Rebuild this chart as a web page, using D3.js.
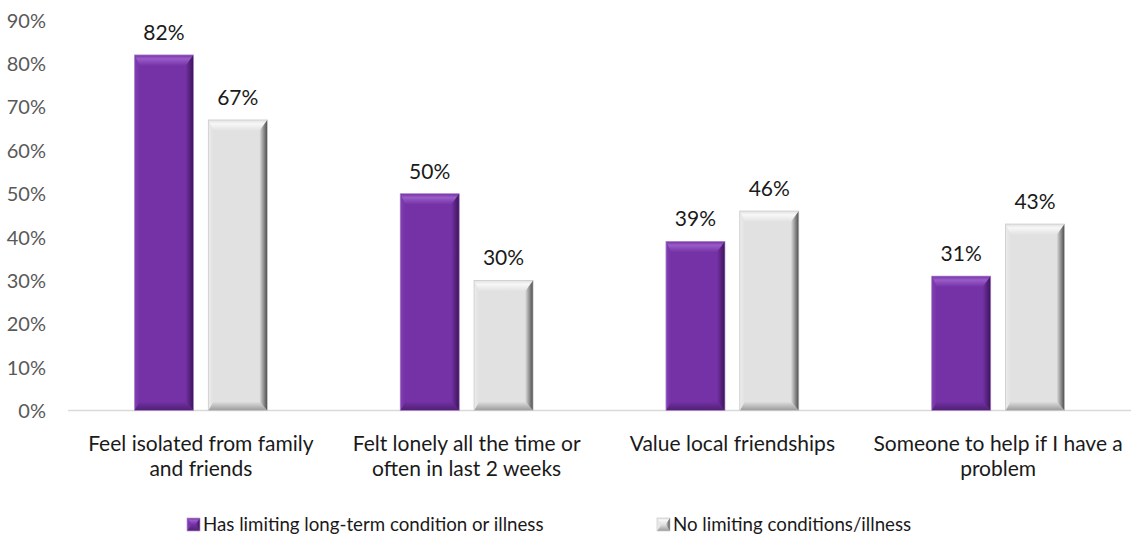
<!DOCTYPE html>
<html>
<head>
<meta charset="utf-8">
<script src="https://cdn.jsdelivr.net/npm/d3@7"></script>
<style>
  html, body { margin: 0; padding: 0; background: #fff; }
  svg { display: block; font-family: "Lato", "Open Sans", sans-serif; }
</style>
</head>
<body>
<svg id="chart" width="1133" height="538"></svg>
<script>
// ---- data ----
const categories = [
  ["Feel isolated from family", "and friends"],
  ["Felt lonely all the time or", "often in last 2 weeks"],
  ["Value local friendships"],
  ["Someone to help if I have a", "problem"]
];
const seriesNames = ["Has limiting long-term condition or illness", "No limiting conditions/illness"];
const limitingValues = [0.82, 0.50, 0.39, 0.31];
const noLimitingValues = [0.67, 0.30, 0.46, 0.43];
const yTicks = [0, 0.1, 0.2, 0.3, 0.4, 0.5, 0.6, 0.7, 0.8, 0.9];

const palettes = [
  { base: "#7432a6", top: "#9a5cc8", left: "#8240b4", right: "#3b1458", bottom: "#4f1f74", edge: "#b99ad0" },
  { base: "#e1e1e1", top: "#f7f7f7", left: "#ececec", right: "#4a4a4a", bottom: "#9a9a9a", edge: "#c8c8c8" }
];

const svg = d3.select("#chart");
const x0 = d3.scaleBand().domain(d3.range(categories.length)).range([68, 1131]).paddingInner(0.5).paddingOuter(0.25);
const x1 = d3.scaleBand().domain([0, 1]).range([0, x0.bandwidth()]).paddingInner(0.2);
const y = d3.scaleLinear().domain([0, 0.9]).range([410.5, 20.2]);

const defs = svg.append("defs");
palettes.forEach((p, i) => {
  const gr = defs.append("linearGradient").attr("id", "rg" + i).attr("x1", 0).attr("x2", 1).attr("y1", 0).attr("y2", 0);
  gr.append("stop").attr("offset", 0).attr("stop-color", p.base);
  gr.append("stop").attr("offset", 1).attr("stop-color", p.right);
  const gl = defs.append("linearGradient").attr("id", "lg" + i).attr("x1", 0).attr("x2", 1).attr("y1", 0).attr("y2", 0);
  gl.append("stop").attr("offset", 0).attr("stop-color", p.left);
  gl.append("stop").attr("offset", 1).attr("stop-color", p.base);
  const gt = defs.append("linearGradient").attr("id", "tg" + i).attr("x1", 0).attr("x2", 0).attr("y1", 0).attr("y2", 1);
  gt.append("stop").attr("offset", 0).attr("stop-color", p.base);
  gt.append("stop").attr("offset", 0.35).attr("stop-color", p.top);
  gt.append("stop").attr("offset", 1).attr("stop-color", p.base);
  const gb = defs.append("linearGradient").attr("id", "bg" + i).attr("x1", 0).attr("x2", 0).attr("y1", 0).attr("y2", 1);
  gb.append("stop").attr("offset", 0).attr("stop-color", p.base);
  gb.append("stop").attr("offset", 1).attr("stop-color", p.bottom);
});

// y-axis labels
const yAxis = d3.axisLeft(y).tickValues(yTicks).tickFormat(d3.format(".0%")).tickSize(0).tickPadding(0);
const gy = svg.append("g").attr("transform", "translate(46,0)").call(yAxis);
gy.select(".domain").remove();
gy.selectAll("text").attr("font-size", 20).attr("fill", "#595959").attr("font-family", "Lato, sans-serif").attr("dy", "0.35em");

// baseline
const xAxis = d3.axisBottom(x0).tickSize(0).tickFormat("");
const gx = svg.append("g").attr("transform", `translate(0,${y(0)})`).call(xAxis);
gx.select(".domain").attr("stroke", "#d9d9d9").attr("stroke-width", 1.3)
  .attr("d", `M68,0H1131`);

function bevelBar(g, xL, w, yT, yB, i) {
  const p = palettes[i];
  const bt = Math.min(11, (yB - yT) / 2), bb = Math.min(9, (yB - yT) / 2);
  const bl = Math.min(5, w / 3), br = Math.min(8, w / 3);
  const xR = xL + w;
  g.append("rect").attr("x", xL).attr("y", yT).attr("width", w).attr("height", yB - yT).attr("fill", p.base);
  g.append("path").attr("d", `M${xL},${yT}L${xR},${yT}L${xR - br},${yT + bt}L${xL + bl},${yT + bt}Z`).attr("fill", `url(#tg${i})`);
  g.append("path").attr("d", `M${xL},${yB}L${xR},${yB}L${xR - br},${yB - bb}L${xL + bl},${yB - bb}Z`).attr("fill", `url(#bg${i})`);
  g.append("path").attr("d", `M${xL},${yT}L${xL + bl},${yT + bt}L${xL + bl},${yB - bb}L${xL},${yB}Z`).attr("fill", `url(#lg${i})`);
  g.append("path").attr("d", `M${xR},${yT}L${xR - br},${yT + bt}L${xR - br},${yB - bb}L${xR},${yB}Z`).attr("fill", `url(#rg${i})`);
  g.append("rect").attr("x", xL).attr("y", yT).attr("width", w).attr("height", yB - yT)
    .attr("fill", "none").attr("stroke", p.edge).attr("stroke-width", 0.7);
}

const seriesValues = [limitingValues, noLimitingValues];
const groups = svg.append("g").selectAll("g").data(categories).join("g")
  .attr("transform", (d, ci) => `translate(${x0(ci)},0)`);

groups.each(function (d, ci) {
  const g = d3.select(this);
  [0, 1].forEach(si => {
    const v = seriesValues[si][ci];
    bevelBar(g.append("g"), x1(si), x1.bandwidth(), y(v), y(0), si);
    g.append("text").attr("x", x1(si) + x1.bandwidth() / 2).attr("y", y(v) - 15)
      .attr("text-anchor", "middle").attr("font-size", 21).attr("fill", "#1a1a1a")
      .text(d3.format(".0%")(v));
  });
});

// category labels
const catG = svg.append("g");
categories.forEach((lines, ci) => {
  const cx = x0(ci) + x0.bandwidth() / 2;
  const t = catG.append("text").attr("text-anchor", "middle").attr("font-size", 21).attr("fill", "#1a1a1a").attr("x", cx);
  lines.forEach((ln, li) => t.append("tspan").attr("x", cx).attr("y", 451 + li * 25).text(ln));
});

// legend
const legendX = [187, 657];
seriesNames.forEach((name, si) => {
  const lg = svg.append("g").attr("transform", `translate(${legendX[si]},518)`);
  bevelBar(lg, 0, 13, 0, 13, si);
  lg.append("text").attr("x", 16).attr("y", 13).attr("font-size", 18.7).attr("fill", "#1a1a1a").text(name);
});
</script>
</body>
</html>
